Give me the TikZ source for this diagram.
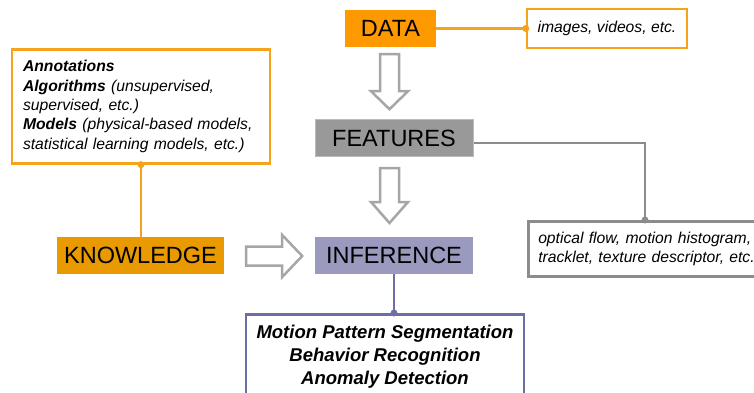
\documentclass[tikz,border=0pt]{standalone}
\usepackage{fontspec}
\setmainfont{Liberation Sans}
\usetikzlibrary{calc}

\definecolor{dataorange}{HTML}{FF9900}
\definecolor{knoworange}{HTML}{E99A00}
\definecolor{lineorange}{HTML}{F5A31A}
\definecolor{featgray}{HTML}{999999}
\definecolor{featedge}{HTML}{BBBBBB}
\definecolor{linegray}{HTML}{8C8C8C}
\definecolor{arrowgray}{HTML}{A6A6A6}
\definecolor{infblue}{HTML}{9A9ABF}
\definecolor{outblue}{HTML}{6E6EA6}

\tikzset{
  labelbox/.style={minimum height=37pt, inner sep=0pt, font=\fontsize{23.5}{28}\selectfont},
  notebox/.style={draw, line width=2.5pt, fill=white, font=\fontsize{15.7}{19.3}\selectfont\itshape},
  conn/.style={line width=2.5pt},
  hollow/.style={draw=arrowgray, line width=2.5pt, fill=white, line join=miter},
}

\begin{document}
\begin{tikzpicture}[x=1pt,y=1pt]
\useasboundingbox (0,0) rectangle (754,392);

%% main boxes
\node[labelbox, fill=dataorange, minimum width=91pt] (data) at (390.5,363.5) {DATA};
\node[labelbox, fill=featgray, draw=featedge, line width=1pt, minimum width=158pt] (feat) at (394,254) {FEATURES};
\node[labelbox, fill=infblue, minimum width=158pt] (inf) at (394,136.5) {INFERENCE};
\node[labelbox, fill=knoworange, minimum width=167pt] (know) at (140.5,136.5) {KNOWLEDGE};

%% side notes
\node[notebox, draw=lineorange, minimum width=160pt, minimum height=39pt] (img) at (607,363.5) {images, videos, etc.};
\node[notebox, draw=linegray, anchor=north west, text width=260pt, inner sep=10pt, minimum height=55pt, align=left] (opt) at (527,172)
  {optical flow, motion histogram,\\ tracklet, texture descriptor, etc.};
\node[notebox, draw=lineorange, text width=236pt, inner sep=11pt, minimum height=103pt, align=left] (ann) at (141,285.5)
  {\textbf{Annotations}\\
   \textbf{Algorithms} (unsupervised,\\ supervised, etc.)\\
   \textbf{Models} (physical-based models,\\ statistical learning models, etc.)};
\node[draw=outblue, line width=2.5pt, fill=white, anchor=north, minimum width=278pt, minimum height=84pt, align=center,
  font=\fontsize{18.5}{23}\selectfont\bfseries\itshape] (out) at (385,79)
  {Motion Pattern Segmentation\\ Behavior Recognition\\ Anomaly Detection};

%% connectors
\coordinate (fdot) at ([xshift=118pt]opt.north west);
\draw[conn, lineorange] (data.east) -- (img.west);
\fill[lineorange] (img.west) circle (3.5pt);
\draw[conn, linegray] ($(feat.east)+(0,-5)$) -| (fdot);
\fill[linegray] (fdot) circle (3.5pt);
\draw[conn, lineorange] (ann.south) -- (ann.south |- know.north);
\fill[lineorange] (ann.south) circle (3.5pt);
\draw[conn, outblue] (inf.south) -- (inf.south |- out.north);
\fill[outblue] (inf.south |- out.north) circle (3.5pt);

%% hollow arrows
\draw[hollow] ($(data.south)+(-10.5,-7)$) -- ++(19,0) -- ++(0,-37) -- ++(9,0) -- ++(-18.5,-18) -- ++(-18.5,18) -- ++(9,0) -- cycle;
\draw[hollow] ($(feat.south)+(-14,-11)$) -- ++(19,0) -- ++(0,-34) -- ++(9,0) -- ++(-18.5,-21) -- ++(-18.5,21) -- ++(9,0) -- cycle;
\draw[hollow] ($(know.east)+(22,9)$) -- ++(36,0) -- ++(0,11.5) -- ++(20,-21) -- ++(-20,-21) -- ++(0,11.5) -- ++(-36,0) -- cycle;
\end{tikzpicture}
\end{document}
